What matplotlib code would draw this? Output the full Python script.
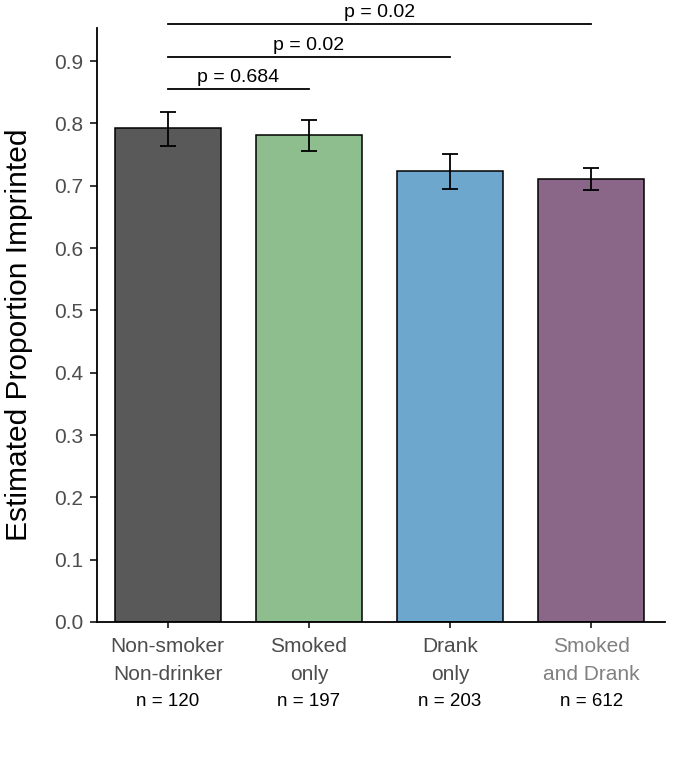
import matplotlib
matplotlib.use("Agg")
import matplotlib.pyplot as plt
import matplotlib.transforms as mtransforms
import numpy as np

# Data
groups = [("Non-smoker", "Non-drinker"), ("Smoked", "only"), ("Drank", "only"), ("Smoked", "and Drank")]
n_labels = ["n = 120", "n = 197", "n = 203", "n = 612"]
estimates = [0.792, 0.782, 0.724, 0.711]
ci_low = [0.763, 0.755, 0.695, 0.693]
ci_high = [0.818, 0.806, 0.751, 0.729]
bar_colors = ["#595959", "#8fbe8e", "#6ea7ce", "#8a6789"]
label_colors = ["#4d4d4d", "#4d4d4d", "#4d4d4d", "#808080"]

# comparisons: (group a, group b, height, label)
brackets = [(0, 1, 0.855, "p = 0.684"),
            (0, 2, 0.906, "p = 0.02"),
            (0, 3, 0.959, "p = 0.02")]

plt.rcParams['font.family'] = ['Liberation Sans', 'DejaVu Sans']

fig = plt.figure(figsize=(6.77, 7.63), dpi=100)
ax = fig.add_axes([0.1433, 0.1848, 0.8387, 0.7785])

x = np.arange(len(groups))
est = np.array(estimates)
yerr = np.vstack([est - np.array(ci_low), np.array(ci_high) - est])

ax.bar(x, est, width=0.75, color=bar_colors, edgecolor="black", linewidth=1.1, zorder=2)
ax.errorbar(x, est, yerr=yerr, fmt="none", ecolor="black", elinewidth=1.3,
            capsize=6, capthick=1.3, zorder=3)

for a, b, h, lab in brackets:
    ax.plot([x[a], x[b]], [h, h], color="black", linewidth=1.3, clip_on=False)
    ax.text((x[a] + x[b]) / 2, h + 0.012, lab, ha="center", va="baseline",
            fontsize=14, clip_on=False)

ax.set_xlim(-0.5, 3.52)
ax.set_ylim(0, 0.953)
yt = np.arange(0, 0.95, 0.1)
ax.set_yticks(yt)
ax.set_yticklabels([f"{v:.1f}" for v in yt])
ax.tick_params(axis="y", labelsize=15, labelcolor="#4d4d4d", length=5, width=1.1, pad=5)
ax.tick_params(axis="x", length=4, width=1.1, labelbottom=False)
ax.set_xticks(x)

# category labels under the axis (two grey lines + black n line)
trans = mtransforms.blended_transform_factory(ax.transData, ax.transAxes)
for xi, (l1, l2), c, nl in zip(x, groups, label_colors, n_labels):
    ax.text(xi, -0.0505, l1, ha="center", va="baseline", fontsize=15, color=c, transform=trans)
    ax.text(xi, -0.0976, l2, ha="center", va="baseline", fontsize=15, color=c, transform=trans)
    ax.text(xi, -0.1414, nl, ha="center", va="baseline", fontsize=13.5, color="black", transform=trans)

ax.set_ylabel("Estimated Proportion Imprinted", fontsize=21.5)
ax.yaxis.set_label_coords(-0.112, 0.483)

for side in ["top", "right"]:
    ax.spines[side].set_visible(False)
for side in ["left", "bottom"]:
    ax.spines[side].set_linewidth(1.3)

fig.savefig("out.png", dpi=100)
